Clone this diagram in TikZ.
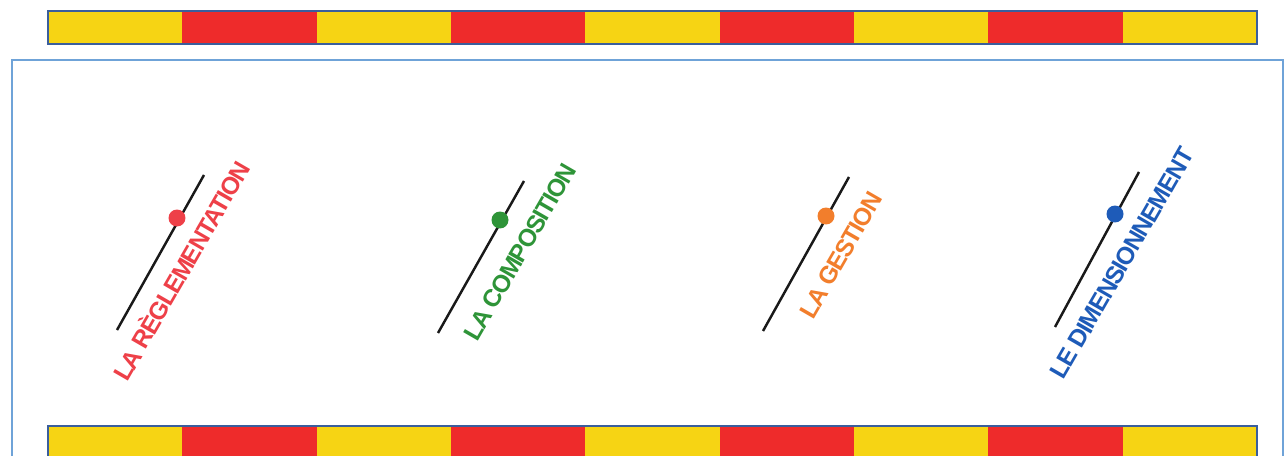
\documentclass[tikz,border=0pt]{standalone}
\usepackage{fontspec}
\setmainfont{Liberation Sans}
\newfontfamily\lblfont[LetterSpace=-5]{Liberation Sans}
\usetikzlibrary{positioning}
\definecolor{bandyellow}{HTML}{F6D414}
\definecolor{bandred}{HTML}{EE2B2B}
\definecolor{bandedge}{HTML}{3A5E9C}
\definecolor{frameblue}{HTML}{6FA3D8}
\definecolor{regred}{HTML}{EE4048}
\definecolor{compgreen}{HTML}{2E9438}
\definecolor{gestorange}{HTML}{F27E2C}
\definecolor{dimblue}{HTML}{1E5BB8}

\begin{document}
\begin{tikzpicture}[x=0.02cm, y=-0.02cm,
    axe/.style={line width=1.4pt, black!90},
    dot/.style={circle, inner sep=0pt, minimum size=0.34cm},
    lbl/.style={font=\lblfont\bfseries\fontsize{14}{16}\selectfont, inner sep=0pt, rotate=60},
    band/.style={draw=bandedge, line width=0.8pt},
    framebox/.style={draw=frameblue, line width=1.2pt}
]
\clip (0,0) rectangle (1286,456);
\fill[white] (0,0) rectangle (1286,456);

% bandes
\foreach \i/\c in {0/bandyellow,1/bandred,2/bandyellow,3/bandred,4/bandyellow,5/bandred,6/bandyellow,7/bandred,8/bandyellow}{
    \fill[\c] ({48+\i*134.33},11) rectangle ({48+(\i+1)*134.33},44);
    \fill[\c] ({48+\i*134.33},426) rectangle ({48+(\i+1)*134.33},470);
}
\draw[band] (48,11) rectangle (1257,44);
\draw[band] (48,426) rectangle (1257,470);
\draw[framebox] (12,60) rectangle (1283,480);

% axes
\coordinate (regA) at (117,330);
\coordinate (regB) at (204,175);
\coordinate (compA) at (438,333);
\coordinate (compB) at (524,181);
\coordinate (gestA) at (763,331);
\coordinate (gestB) at (849,177);
\coordinate (dimA) at (1055,327);
\coordinate (dimB) at (1139,172);

\draw[axe] (regA) -- (regB);
\draw[axe] (compA) -- (compB);
\draw[axe] (gestA) -- (gestB);
\draw[axe] (dimA) -- (dimB);

\node[dot, fill=regred] (regdot) at (177,218) {};
\node[dot, fill=compgreen] (compdot) at (500,220) {};
\node[dot, fill=gestorange] (gestdot) at (826,216) {};
\node[dot, fill=dimblue] (dimdot) at (1115,214) {};

\node[lbl, text=regred] (reglbl) at (180,270) {LA RÈGLEMENTATION};
\node[lbl, text=compgreen] (complbl) at (520,252) {LA COMPOSITION};
\node[lbl, text=gestorange] (gestlbl) at (841,255) {LA GESTION};
\node[lbl, text=dimblue] (dimlbl) at (1122,263) {LE DIMENSIONNEMENT};
\end{tikzpicture}
\end{document}
